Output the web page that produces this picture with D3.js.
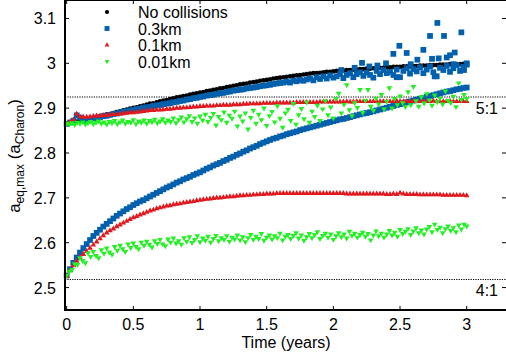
<!DOCTYPE html>
<html>
<head>
<meta charset="utf-8">
<script src="https://cdn.jsdelivr.net/npm/d3@7"></script>
<style>
  body { margin: 0; background: #fff; }
  svg { display: block; font-family: "Liberation Sans", Arial, Helvetica, sans-serif; }
</style>
</head>
<body>
<svg id="chart" width="506" height="360"></svg>
<script>
// time runs 0..3 years, points evenly spaced along each array
const tMax = 3;

const xTicks = [0, 0.5, 1, 1.5, 2, 2.5, 3];
const yTicks = [2.5, 2.6, 2.7, 2.8, 2.9, 3.0, 3.1];
const resonances = [{ label: "5:1", value: 2.925 }, { label: "4:1", value: 2.518 }];
const legendNames = ["No collisions", "0.3km", "0.1km", "0.01km"];

// no collisions, upper start
const blackUpper = [2.865, 2.867, 2.868, 2.870, 2.871, 2.873, 2.875, 2.876, 2.878,
  2.880, 2.882, 2.884, 2.886, 2.887, 2.889, 2.891, 2.893,
  2.895, 2.897, 2.899, 2.901, 2.902, 2.904, 2.906, 2.908,
  2.910, 2.911, 2.913, 2.915, 2.917, 2.918, 2.920, 2.922,
  2.924, 2.925, 2.927, 2.928, 2.930, 2.932, 2.933, 2.935,
  2.936, 2.938, 2.939, 2.941, 2.942, 2.944, 2.945, 2.947,
  2.948, 2.950, 2.951, 2.953, 2.954, 2.955, 2.957, 2.958,
  2.959, 2.961, 2.962, 2.963, 2.964, 2.966, 2.967, 2.968,
  2.969, 2.970, 2.971, 2.972, 2.973, 2.974, 2.975, 2.976,
  2.977, 2.978, 2.978, 2.979, 2.980, 2.981, 2.981, 2.982,
  2.983, 2.983, 2.984, 2.985, 2.985, 2.986, 2.986, 2.987,
  2.987, 2.988, 2.988, 2.989, 2.989, 2.990, 2.990, 2.991,
  2.991, 2.992, 2.992, 2.992, 2.993, 2.993, 2.993, 2.994,
  2.994, 2.995, 2.995, 2.995, 2.996, 2.996, 2.996, 2.997,
  2.997, 2.997, 2.998, 2.998, 2.998, 2.998, 2.999, 2.999];

// 0.3km
const blueUpper = [2.865, 2.868, 2.872, 2.884, 2.879, 2.873, 2.874, 2.875, 2.877,
  2.879, 2.880, 2.882, 2.883, 2.885, 2.887, 2.888, 2.890,
  2.892, 2.893, 2.895, 2.896, 2.898, 2.899, 2.901, 2.902,
  2.903, 2.905, 2.906, 2.907, 2.909, 2.910, 2.911, 2.913,
  2.914, 2.916, 2.917, 2.919, 2.920, 2.922, 2.923, 2.925,
  2.926, 2.928, 2.929, 2.930, 2.932, 2.933, 2.934, 2.936,
  2.937, 2.939, 2.940, 2.941, 2.942, 2.944, 2.945, 2.946,
  2.947, 2.949, 2.950, 2.951, 2.952, 2.954, 2.955, 2.956,
  2.957, 2.959, 2.957, 2.961, 2.960, 2.963, 2.961, 2.964,
  2.966, 2.962, 2.969, 2.965, 2.971, 2.966, 2.973, 2.968,
  2.971, 2.976, 2.967, 2.974, 2.978, 2.969, 2.976, 2.980,
  2.972, 2.979, 2.974, 2.968, 2.983, 2.976, 2.985, 2.978,
  2.981, 2.974, 2.986, 2.969, 2.983, 2.989, 2.977, 2.987,
  2.982, 2.991, 2.978, 2.986, 2.993, 2.980, 2.971, 2.990,
  2.985, 2.994, 2.981, 2.989, 2.996, 2.983, 2.992, 2.997];
const blueUpperOutliers = [[2.06, 2.985], [2.16, 2.990], [2.215, 3.001], [2.27, 2.993], [2.33, 2.995],
  [2.395, 3.000], [2.45, 3.021], [2.475, 2.969], [2.495, 3.039], [2.55, 3.023], [2.58, 2.998],
  [2.63, 3.008], [2.675, 3.030], [2.725, 3.061], [2.74, 3.010], [2.76, 2.971], [2.78, 3.090],
  [2.79, 3.011], [2.83, 3.061], [2.85, 3.013], [2.875, 3.018], [2.9, 2.998], [2.91, 3.024],
  [2.96, 3.069], [2.98, 2.985], [3.0, 3.000]];
const blueLower = [2.527, 2.541, 2.555, 2.567, 2.578,
  2.588, 2.597, 2.606, 2.615, 2.622, 2.629, 2.636, 2.642, 2.648, 2.654, 2.660, 2.665,
  2.670, 2.675, 2.679, 2.684, 2.688, 2.692, 2.695, 2.699, 2.703, 2.707, 2.711, 2.715,
  2.719, 2.723, 2.726, 2.730, 2.734, 2.737, 2.741, 2.744, 2.747, 2.751, 2.754, 2.757,
  2.761, 2.765, 2.768, 2.772, 2.775, 2.778, 2.782, 2.785, 2.789, 2.792, 2.796, 2.799,
  2.803, 2.806, 2.810, 2.813, 2.816, 2.820, 2.823, 2.826, 2.829, 2.832, 2.834, 2.837,
  2.839, 2.842, 2.844, 2.846, 2.848, 2.851, 2.853, 2.855, 2.857, 2.859, 2.861, 2.863,
  2.865, 2.867, 2.869, 2.871, 2.873, 2.875, 2.876, 2.878, 2.880, 2.882, 2.884, 2.886,
  2.888, 2.889, 2.891, 2.893, 2.895, 2.897, 2.899, 2.901, 2.903, 2.905, 2.907, 2.909,
  2.911, 2.913, 2.915, 2.917, 2.919, 2.921, 2.923, 2.925, 2.927, 2.929, 2.931, 2.933,
  2.935, 2.937, 2.938, 2.940, 2.942, 2.943, 2.945, 2.946];

// 0.1km
const redUpper = [2.865, 2.869, 2.874, 2.887, 2.881, 2.880, 2.880, 2.881, 2.882,
  2.883, 2.883, 2.884, 2.884, 2.885, 2.886, 2.886, 2.887,
  2.888, 2.889, 2.890, 2.890, 2.891, 2.892, 2.893, 2.894,
  2.895, 2.895, 2.896, 2.896, 2.897, 2.898, 2.898, 2.899,
  2.900, 2.900, 2.901, 2.901, 2.902, 2.903, 2.903, 2.904,
  2.904, 2.905, 2.905, 2.905, 2.906, 2.906, 2.907, 2.907,
  2.907, 2.908, 2.908, 2.908, 2.909, 2.909, 2.910, 2.910,
  2.910, 2.910, 2.911, 2.911, 2.911, 2.911, 2.912, 2.912,
  2.912, 2.912, 2.912, 2.912, 2.913, 2.913, 2.913, 2.913,
  2.913, 2.913, 2.913, 2.914, 2.914, 2.914, 2.914, 2.914,
  2.914, 2.914, 2.914, 2.915, 2.914, 2.914, 2.915, 2.915,
  2.915, 2.915, 2.915, 2.915, 2.915, 2.915, 2.915, 2.915,
  2.915, 2.915, 2.916, 2.915, 2.915, 2.915, 2.915, 2.915,
  2.915, 2.915, 2.915, 2.915, 2.915, 2.916, 2.915, 2.915,
  2.915, 2.915, 2.916, 2.915, 2.915, 2.915, 2.915, 2.915];
const redLower = [2.525, 2.538, 2.549, 2.559, 2.567,
  2.574, 2.581, 2.588, 2.595, 2.602, 2.609, 2.616, 2.622, 2.627, 2.631, 2.636, 2.640,
  2.644, 2.648, 2.652, 2.656, 2.659, 2.662, 2.665, 2.668, 2.671, 2.673, 2.676, 2.678,
  2.680, 2.682, 2.683, 2.685, 2.686, 2.687, 2.689, 2.690, 2.691, 2.692, 2.694, 2.695,
  2.696, 2.697, 2.698, 2.699, 2.700, 2.700, 2.701, 2.702, 2.703, 2.703, 2.704, 2.705,
  2.705, 2.706, 2.706, 2.707, 2.707, 2.708, 2.708, 2.709, 2.709, 2.709, 2.710, 2.710,
  2.710, 2.710, 2.710, 2.710, 2.710, 2.710, 2.710, 2.710, 2.710, 2.710, 2.710, 2.710,
  2.710, 2.710, 2.710, 2.710, 2.710, 2.710, 2.710, 2.709, 2.709, 2.709, 2.709, 2.709,
  2.709, 2.709, 2.709, 2.709, 2.709, 2.709, 2.709, 2.708, 2.708, 2.709, 2.708, 2.711,
  2.709, 2.708, 2.708, 2.708, 2.708, 2.707, 2.707, 2.707, 2.707, 2.707, 2.707, 2.707,
  2.706, 2.706, 2.706, 2.706, 2.706, 2.706, 2.706, 2.705];

// 0.01km
const greenUpper = [2.866, 2.864, 2.867, 2.863, 2.868, 2.866, 2.869, 2.864, 2.867, 2.870,
  2.865, 2.868, 2.871, 2.866, 2.869, 2.864, 2.870, 2.867, 2.872, 2.865,
  2.869, 2.873, 2.866, 2.870, 2.868, 2.874, 2.865, 2.871, 2.868, 2.873,
  2.866, 2.872, 2.869, 2.875, 2.867, 2.871, 2.876, 2.868, 2.873, 2.870,
  2.878, 2.867, 2.874, 2.880, 2.869, 2.876, 2.883, 2.870, 2.878, 2.866,
  2.882, 2.873, 2.886, 2.870, 2.879, 2.888, 2.862, 2.881, 2.874, 2.891,
  2.868, 2.884, 2.877, 2.893, 2.860, 2.882, 2.871, 2.889, 2.853, 2.879,
  2.895, 2.866, 2.886, 2.874, 2.900, 2.861, 2.883, 2.892, 2.869, 2.905,
  2.877, 2.857, 2.889, 2.897, 2.872, 2.910, 2.864, 2.885, 2.899, 2.876,
  2.913, 2.868, 2.893, 2.881, 2.906, 2.872, 2.898, 2.916, 2.885, 2.902,
  2.878, 2.921, 2.933, 2.889, 2.908, 2.952, 2.896, 2.883, 2.912, 2.901,
  2.941, 2.890, 2.917, 2.941, 2.904, 2.895, 2.922, 2.909, 2.930, 2.898,
  2.915, 2.945, 2.900, 2.921, 2.907, 2.927, 2.912, 2.903, 2.936, 2.907,
  2.948, 2.916, 2.904, 2.925, 2.911, 2.932, 2.918, 2.906, 2.929, 2.914,
  2.922, 2.909, 2.938, 2.917, 2.912, 2.926, 2.903, 2.956, 2.919, 2.930,
  2.921];
const greenLower = [2.527, 2.536, 2.540, 2.553, 2.551, 2.566, 2.560, 2.555, 2.577, 2.569,
  2.580, 2.571, 2.566, 2.584, 2.576, 2.588, 2.579, 2.574, 2.591, 2.583,
  2.594, 2.586, 2.580, 2.597, 2.589, 2.599, 2.591, 2.586, 2.601, 2.594,
  2.603, 2.596, 2.590, 2.604, 2.598, 2.607, 2.597, 2.593, 2.608, 2.601,
  2.610, 2.599, 2.604, 2.596, 2.611, 2.603, 2.613, 2.600, 2.607, 2.615,
  2.602, 2.610, 2.605, 2.614, 2.601, 2.609, 2.616, 2.604, 2.611, 2.607,
  2.615, 2.603, 2.612, 2.608, 2.617, 2.606, 2.613, 2.602, 2.611, 2.618,
  2.607, 2.614, 2.609, 2.620, 2.605, 2.612, 2.617, 2.608, 2.615, 2.611,
  2.621, 2.606, 2.614, 2.618, 2.609, 2.616, 2.622, 2.610, 2.617, 2.605,
  2.613, 2.620, 2.611, 2.618, 2.624, 2.609, 2.616, 2.621, 2.612, 2.619,
  2.607, 2.615, 2.622, 2.613, 2.619, 2.610, 2.625, 2.616, 2.621, 2.612,
  2.618, 2.623, 2.614, 2.620, 2.606, 2.617, 2.626, 2.615, 2.621, 2.612,
  2.619, 2.627, 2.617, 2.623, 2.614, 2.629, 2.620, 2.625, 2.631, 2.618,
  2.626, 2.633, 2.622, 2.628, 2.619, 2.630, 2.636, 2.624, 2.641, 2.629,
  2.634, 2.622, 2.631, 2.637, 2.627, 2.633, 2.624, 2.639, 2.630, 2.641,
  2.637];

const width = 506, height = 360;
const plotLeft = 65, plotBottom = 310;

const x = d3.scaleLinear().domain([-0.0125, 3.3]).range([plotLeft, 506.7]);
const y = d3.scaleLinear().domain([2.45, 3.14]).range([plotBottom, 0.5]);

const svg = d3.select("#chart");

// turn an evenly spaced array into points
function toPoints(arr) {
  return arr.map((v, i) => ({ t: i * tMax / (arr.length - 1), v: v }));
}

const styles = [
  { name: legendNames[0], color: "#000000", type: d3.symbolCircle, size: 17, rot: 0,
    points: toPoints(blackUpper) },
  { name: legendNames[1], color: "#0060ad", type: d3.symbolSquare, size: 33, rot: 0,
    points: toPoints(blueUpper).concat(toPoints(blueLower), blueUpperOutliers.map(d => ({ t: d[0], v: d[1] }))) },
  { name: legendNames[2], color: "#e0191f", type: d3.symbolTriangle, size: 14, rot: 0,
    points: toPoints(redUpper).concat(toPoints(redLower)) },
  { name: legendNames[3], color: "#22f022", type: d3.symbolTriangle, size: 14, rot: 180,
    points: toPoints(greenUpper).concat(toPoints(greenLower)) }
];

// resonance lines
resonances.forEach(r => {
  svg.append("line")
    .attr("x1", plotLeft).attr("x2", width)
    .attr("y1", y(r.value)).attr("y2", y(r.value))
    .attr("stroke", "#000").attr("stroke-width", 1.1)
    .attr("stroke-dasharray", "1.2,1.2");
  svg.append("text")
    .attr("x", 498).attr("y", y(r.value) + 17)
    .attr("text-anchor", "end")
    .attr("font-size", 16)
    .text(r.label);
});

// markers
styles.forEach(s => {
  const sym = d3.symbol().type(s.type).size(s.size)();
  svg.append("g").selectAll("path")
    .data(s.points)
    .enter().append("path")
    .attr("d", sym)
    .attr("fill", s.color)
    .attr("transform", d => `translate(${x(d.t)},${y(d.v)}) rotate(${s.rot})`);
});

// frame: thin top/right, thick left/bottom
svg.append("line").attr("x1", plotLeft).attr("x2", width).attr("y1", 0.5).attr("y2", 0.5)
  .attr("stroke", "#000").attr("stroke-width", 1);
svg.append("line").attr("x1", plotLeft).attr("x2", plotLeft).attr("y1", 0).attr("y2", plotBottom + 1)
  .attr("stroke", "#000").attr("stroke-width", 2);
svg.append("line").attr("x1", plotLeft - 1).attr("x2", width).attr("y1", plotBottom).attr("y2", plotBottom)
  .attr("stroke", "#000").attr("stroke-width", 2);

// ticks pointing inward
const tickLen = 4;
const xt = svg.append("g");
xTicks.forEach(t => {
  xt.append("line").attr("x1", x(t)).attr("x2", x(t))
    .attr("y1", plotBottom).attr("y2", plotBottom - tickLen).attr("stroke", "#000");
  xt.append("line").attr("x1", x(t)).attr("x2", x(t))
    .attr("y1", 0).attr("y2", tickLen).attr("stroke", "#000");
  xt.append("text").attr("x", x(t)).attr("y", 330)
    .attr("text-anchor", "middle").attr("font-size", 16)
    .text(d3.format("~g")(t));
});
const yt = svg.append("g");
yTicks.forEach(v => {
  yt.append("line").attr("x1", plotLeft).attr("x2", plotLeft + tickLen)
    .attr("y1", y(v)).attr("y2", y(v)).attr("stroke", "#000");
  yt.append("line").attr("x1", width).attr("x2", width - tickLen)
    .attr("y1", y(v)).attr("y2", y(v)).attr("stroke", "#000");
  yt.append("text").attr("x", 56).attr("y", y(v) + 6)
    .attr("text-anchor", "end").attr("font-size", 16)
    .text(d3.format("~g")(v));
});

// axis titles
svg.append("text").attr("x", 286).attr("y", 348)
  .attr("text-anchor", "middle").attr("font-size", 16)
  .text("Time (years)");

const ylab = svg.append("text")
  .attr("transform", "translate(20,156) rotate(-90)")
  .attr("text-anchor", "middle").attr("font-size", 17);
ylab.append("tspan").text("a");
ylab.append("tspan").attr("dy", 4).attr("font-size", 12).text("eq,max");
ylab.append("tspan").attr("dy", -4).text(" (a");
ylab.append("tspan").attr("dy", 4).attr("font-size", 12).text("Charon");
ylab.append("tspan").attr("dy", -4).text(")");

// legend
const legend = svg.append("g");
styles.forEach((s, i) => {
  const cy = 12 + i * 16.5;
  legend.append("path")
    .attr("d", d3.symbol().type(s.type).size(i === 0 ? 14 : i === 1 ? 24 : 10)())
    .attr("fill", s.color)
    .attr("transform", `translate(107,${cy}) rotate(${s.rot})`);
  legend.append("text").attr("x", 138).attr("y", cy + 6)
    .attr("font-size", 16).text(s.name);
});
</script>
</body>
</html>
